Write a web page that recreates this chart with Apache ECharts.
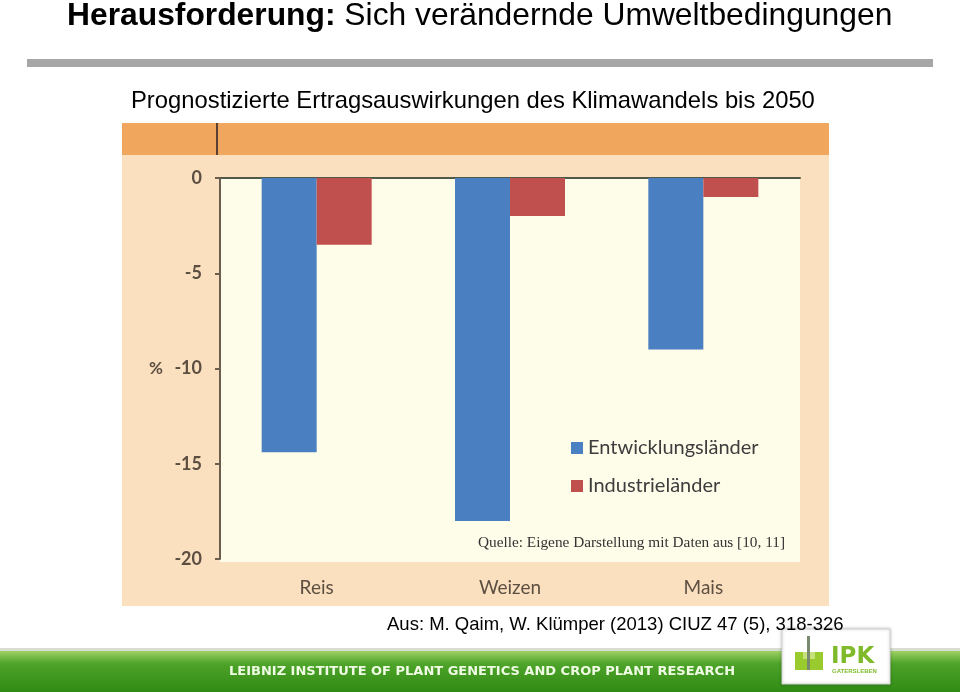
<!doctype html>
<html>
<head>
    <meta charset="utf-8">
    <title>Ertragsauswirkungen des Klimawandels</title>
    <script src="https://cdn.jsdelivr.net/npm/echarts@6/dist/echarts.min.js"></script>
    <style>
        html, body { margin: 0; padding: 0; background: #ffffff; }
        #Chart { width: 960px; height: 692px; }
    </style>
</head>
<body>
    <div id="Chart"></div>
<script>
    // Daten
    var categories = ['Reis', 'Weizen', 'Mais'];
    var entwicklungslaender = [-14.4, -18, -9];
    var industrielaender = [-3.5, -2, -1];
    var seriesNames = ['Entwicklungsländer', 'Industrieländer'];

    var labelFont = 'Lato, "Open Sans", sans-serif';
    var labelColor = '#5c4f42';

    var myChart = echarts.init(document.getElementById('Chart'), null, { renderer: 'canvas' });

    var option = {
        animation: false,
        backgroundColor: '#ffffff',
        graphic: [
            // Kopfzeile der Folie
            {
                type: 'text', left: 67, top: 0, z: 10,
                style: {
                    text: '{b|Herausforderung:}{n| Sich verändernde Umweltbedingungen}',
                    rich: {
                        b: { fontFamily: 'Liberation Sans, Arial, sans-serif', fontSize: 31.8, fontWeight: 'bold', fill: '#000' },
                        n: { fontFamily: 'Liberation Sans, Arial, sans-serif', fontSize: 31.8, fill: '#000' }
                    }
                }
            },
            { type: 'rect', shape: { x: 27, y: 59, width: 906, height: 8 }, style: { fill: '#a6a6a6' } },
            {
                type: 'text', left: 131, top: 89,
                style: { text: 'Prognostizierte Ertragsauswirkungen des Klimawandels bis 2050', font: '23.8px "Liberation Sans", Arial, sans-serif', fill: '#000' }
            },
            // Hintergrund der eingebetteten Grafik
            { type: 'rect', z: -10, shape: { x: 122, y: 123, width: 707, height: 483 }, style: { fill: '#fae0bf' } },
            { type: 'rect', z: -9, shape: { x: 122, y: 123, width: 707, height: 32 }, style: { fill: '#f1a65d' } },
            { type: 'line', z: -8, shape: { x1: 217, y1: 123, x2: 217, y2: 155 }, style: { stroke: '#5a4030', lineWidth: 2 } },
            { type: 'rect', z: -8, shape: { x: 220, y: 178, width: 580, height: 384 }, style: { fill: '#fefdea' } },
            {
                type: 'text', left: 478, top: 535,
                style: { text: 'Quelle: Eigene Darstellung mit Daten aus [10, 11]', font: '15.3px "Liberation Serif", "Times New Roman", serif', fill: '#333' }
            },
            // Fusszeile
            { type: 'rect', shape: { x: 0, y: 648, width: 960, height: 3 }, style: { fill: '#d8ddd2' } },
            {
                type: 'rect', shape: { x: 0, y: 651, width: 960, height: 41 },
                style: {
                    fill: new echarts.graphic.LinearGradient(0, 0, 0, 1, [
                        { offset: 0, color: '#9fd064' },
                        { offset: 0.3, color: '#4fa42a' },
                        { offset: 1, color: '#2f8a14' }
                    ])
                }
            },
            {
                type: 'text', left: 229, top: 665,
                style: { text: 'LEIBNIZ INSTITUTE OF PLANT GENETICS AND CROP PLANT RESEARCH', font: 'bold 13px "DejaVu Sans", sans-serif', fill: '#eefbe2' }
            },
            { type: 'rect', shape: { x: 782, y: 629, width: 108, height: 55 }, style: { fill: '#ffffff', stroke: '#d6d6d6', lineWidth: 1, shadowBlur: 3, shadowColor: 'rgba(0,0,0,0.25)' } },
            { type: 'rect', shape: { x: 795, y: 652, width: 28, height: 18 }, style: { fill: '#9acb2e' } },
            { type: 'rect', shape: { x: 803, y: 652, width: 12, height: 7 }, style: { fill: '#c5e27a' } },
            { type: 'rect', shape: { x: 807, y: 636, width: 3, height: 34 }, style: { fill: '#7a8a70' } },
            {
                type: 'text', left: 831, top: 646,
                style: { text: 'IPK', font: 'bold 23px "DejaVu Sans", sans-serif', fill: '#7fba2a' }
            },
            {
                type: 'text', left: 832, top: 668,
                style: { text: 'GATERSLEBEN', font: 'bold 6px "Liberation Sans", Arial, sans-serif', fill: '#7fba2a' }
            },
            // Quellenangabe (ueber dem Logo)
            {
                type: 'text', left: 387, top: 615, z: 20,
                style: { text: 'Aus: M. Qaim, W. Klümper (2013) CIUZ 47 (5), 318-326', font: '18.5px "Liberation Sans", Arial, sans-serif', fill: '#000' }
            }
        ],
        legend: {
            orient: 'vertical',
            left: 566,
            top: 433,
            itemWidth: 12,
            itemHeight: 12,
            itemGap: 18,
            icon: 'rect',
            data: seriesNames,
            textStyle: { fontFamily: labelFont, fontSize: 20, color: '#3d3d3d' }
        },
        grid: {
            left: 220,
            right: 160,
            top: 178,
            bottom: 133,
            containLabel: false
        },
        xAxis: [{
            type: 'category',
            data: categories,
            position: 'bottom',
            axisLine: { show: false, onZero: false },
            axisTick: { show: false },
            axisLabel: { margin: 19, fontFamily: labelFont, fontSize: 19, color: labelColor }
        }, {
            type: 'category',
            data: categories,
            position: 'top',
            axisLine: { show: true, onZero: false, lineStyle: { color: '#4f5a4a', width: 2 } },
            axisTick: { show: false },
            axisLabel: { show: false }
        }],
        yAxis: {
            type: 'value',
            min: -20,
            max: 0,
            interval: 5,
            name: '%',
            nameLocation: 'middle',
            nameRotate: 0,
            nameGap: 57,
            nameTextStyle: { fontFamily: labelFont, fontSize: 17, color: labelColor, fontWeight: 'bold' },
            axisLine: { show: true, lineStyle: { color: '#6b5e4e', width: 2 } },
            axisTick: { show: true, length: 5, lineStyle: { color: '#6b5e4e', width: 2 } },
            axisLabel: { margin: 18, fontFamily: labelFont, fontSize: 18, color: labelColor, fontWeight: 'bold' },
            splitLine: { show: false }
        },
        series: [{
            name: seriesNames[0],
            type: 'bar',
            barWidth: 55,
            barGap: '0%',
            itemStyle: { color: '#4a7fc1' },
            data: entwicklungslaender
        }, {
            name: seriesNames[1],
            type: 'bar',
            barWidth: 55,
            barGap: '0%',
            itemStyle: { color: '#c0504d' },
            data: industrielaender
        }]
    };
    myChart.setOption(option);
</script>
</body>
</html>
